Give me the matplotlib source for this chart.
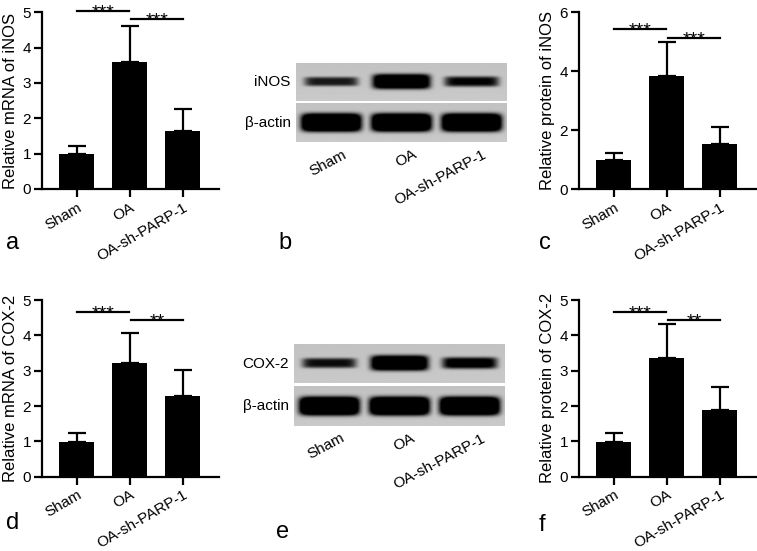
import numpy as np
import matplotlib
matplotlib.use("Agg")
import matplotlib.pyplot as plt

plt.rcParams['font.family'] = ['Liberation Sans', 'DejaVu Sans']

groups = ["Sham", "OA", "OA-sh-PARP-1"]

# panel a: relative mRNA of iNOS
mrna_inos_mean = [1.00, 3.58, 1.65]
mrna_inos_top = [1.23, 4.62, 2.27]
# panel c: relative protein of iNOS
prot_inos_mean = [0.98, 3.84, 1.55]
prot_inos_top = [1.24, 4.98, 2.10]
# panel d: relative mRNA of COX-2
mrna_cox2_mean = [0.99, 3.23, 2.29]
mrna_cox2_top = [1.24, 4.08, 3.01]
# panel f: relative protein of COX-2
prot_cox2_mean = [0.99, 3.37, 1.88]
prot_cox2_top = [1.25, 4.31, 2.54]

sig_inos = ["***", "***"]
sig_cox2 = ["***", "**"]

# western blot band strengths (relative)
band_inos = [0.45, 1.0, 0.55]
band_cox2 = [0.5, 1.0, 0.65]
band_actin = [1.3, 1.3, 1.3]

W, H = 757, 551
fig = plt.figure(figsize=(W / 100, H / 100), dpi=100)


def rect_px(left, top, right, bottom):
    return [left / W, 1 - bottom / H, (right - left) / W, (bottom - top) / H]


def bar_panel(rect, means, tops, ymax, yticks, ylabel, sig, sig_levels):
    ax = fig.add_axes(rect)
    x = np.arange(len(groups))
    means = np.array(means)
    tops = np.array(tops)
    ax.bar(x, means, width=0.66, color='black', zorder=2)
    ax.errorbar(x, means, yerr=[np.zeros(len(x)), tops - means], fmt='none',
                ecolor='black', elinewidth=1.6, capsize=6.5, capthick=1.6, zorder=1)
    ax.set_xlim(-0.66, 2.68)
    ax.set_ylim(0, ymax)
    ax.set_yticks(yticks)
    ax.set_xticks(x)
    ax.set_xticklabels(groups, rotation=30, ha='right', rotation_mode='anchor')
    for s in ['top', 'right']:
        ax.spines[s].set_visible(False)
    for s in ['left', 'bottom']:
        ax.spines[s].set_linewidth(1.6)
    ax.tick_params(axis='both', width=1.6, length=6, labelsize=11, pad=2)
    ax.set_ylabel(ylabel, fontsize=12, labelpad=3)
    # significance lines
    spans = [(0, 0.98), (1.02, 2.0)]
    for (x0, x1), lvl, lab in zip(spans, sig_levels, sig):
        ax.plot([x0, x1], [lvl, lvl], color='black', lw=1.6, clip_on=False)
        ax.annotate(lab, xy=((x0 + x1) / 2, lvl), xytext=(0, -4.6),
                    textcoords='offset points', ha='center', va='baseline',
                    fontsize=14, annotation_clip=False)
    return ax


def blot_panel(rect, target_name, target_bands, actin_bands):
    ax = fig.add_axes(rect)
    xs = np.linspace(0, 3, 420)
    ys = np.linspace(0, 1, 140)
    X, Y = np.meshgrid(xs, ys)
    bg = 0.79

    def strip(bands):
        dark = np.zeros_like(X)
        for i, s in enumerate(bands):
            hw = 0.36 + 0.05 * s
            hh = 0.06 + 0.13 * s
            mult = 0.3 + 1.3 * s
            d = mult * np.exp(-(np.abs(X - (i + 0.5)) / hw) ** 8) * \
                np.exp(-(np.abs(Y - 0.5) / hh) ** 4)
            dark = np.maximum(dark, d)
        shade = bg - 0.03 * Y
        return shade * (1 - np.clip(dark, 0, 1))

    gap = 0.09
    ax.imshow(strip(actin_bands), cmap='gray', vmin=0, vmax=1, extent=[0, 3, 0, 1],
              aspect='auto', interpolation='bilinear', origin='lower')
    ax.imshow(strip(target_bands), cmap='gray', vmin=0, vmax=1,
              extent=[0, 3, 1 + gap, 2 + gap], aspect='auto',
              interpolation='bilinear', origin='lower')
    ax.set_xlim(0, 3)
    ax.set_ylim(0, 2 + gap)
    ax.axis('off')
    ax.text(-0.07, 1.5 + gap, target_name, ha='right', va='center', fontsize=11)
    ax.text(-0.07, 0.5, "β-actin", ha='right', va='center', fontsize=11)
    for i, g in enumerate(groups):
        ax.text(i + 0.66, -0.13, g, rotation=28, ha='right', va='top',
                rotation_mode='anchor', fontsize=11)
    return ax


bar_panel(rect_px(42, 12.3, 219, 189), mrna_inos_mean, mrna_inos_top, 5,
          [0, 1, 2, 3, 4, 5], "Relative mRNA of iNOS", sig_inos, [5.03, 4.81])
bar_panel(rect_px(579, 12.3, 756, 189.3), prot_inos_mean, prot_inos_top, 6,
          [0, 2, 4, 6], "Relative protein of iNOS", sig_inos, [5.42, 5.13])
bar_panel(rect_px(42, 300, 219, 476.7), mrna_cox2_mean, mrna_cox2_top, 5,
          [0, 1, 2, 3, 4, 5], "Relative mRNA of COX-2", sig_cox2, [4.65, 4.42])
bar_panel(rect_px(579, 300, 756, 476.7), prot_cox2_mean, prot_cox2_top, 5,
          [0, 1, 2, 3, 4, 5], "Relative protein of COX-2", sig_cox2, [4.65, 4.42])

blot_panel(rect_px(295.7, 62.7, 506, 142.3), "iNOS", band_inos, band_actin)
blot_panel(rect_px(294, 344, 505, 426), "COX-2", band_cox2, band_actin)

letters = [("a", 13, 243), ("b", 285, 243), ("c", 545, 243),
           ("d", 13, 523), ("e", 283, 532), ("f", 542, 525)]
for lab, px, py in letters:
    fig.text(px / W, 1 - py / H, lab, ha='center', va='center', fontsize=17)

fig.savefig("out.png", dpi=100)
